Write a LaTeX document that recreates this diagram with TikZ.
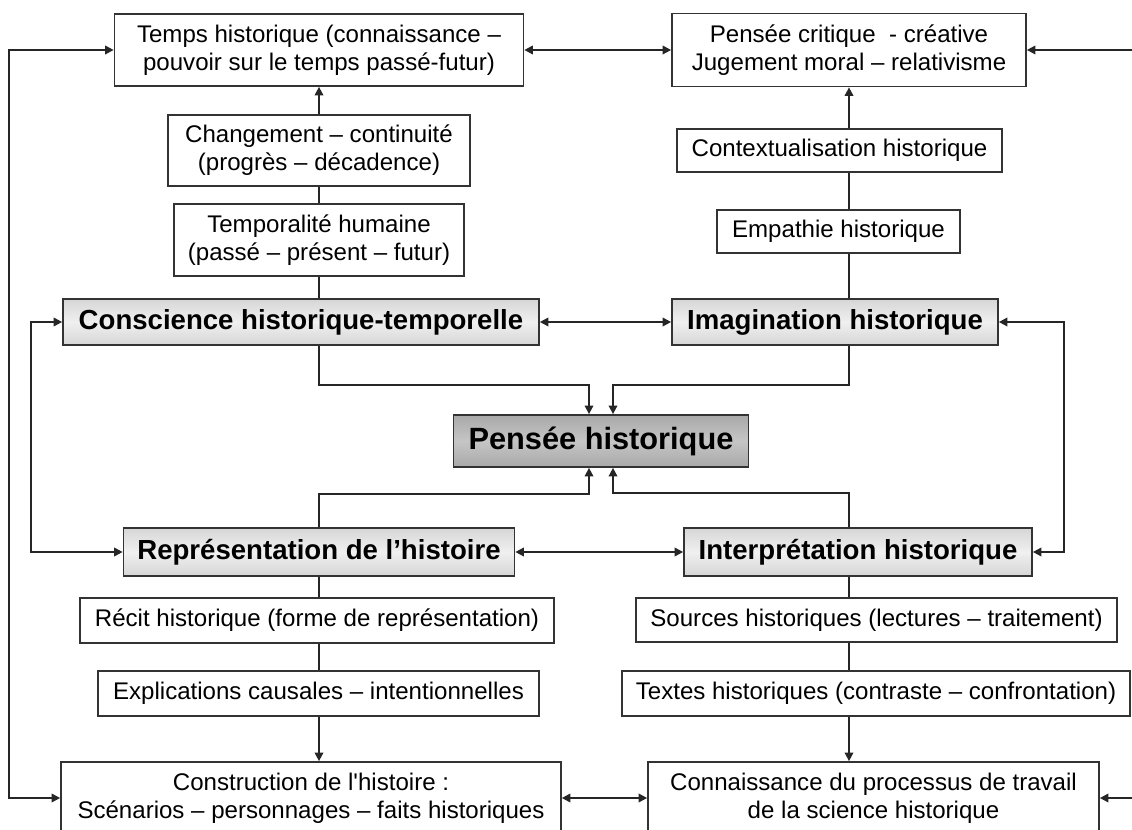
\documentclass[tikz,border=0pt]{standalone}
\usepackage{fontspec}
\setmainfont{Liberation Sans}
\usepackage{tikz}
\usetikzlibrary{positioning,arrows.meta}

\newcommand{\plainfont}{\fontsize{13.7}{16}\selectfont}
\newcommand{\keyfont}{\fontsize{15.7}{18}\selectfont\bfseries}
\newcommand{\corefont}{\fontsize{17.5}{20}\selectfont\bfseries}

\begin{document}
\begin{tikzpicture}[
    x=0.02cm, y=-0.02cm,
    plainbox/.style={rectangle, draw=black!80, line width=1pt, fill=white, align=center, inner sep=0pt, font=\plainfont},
    keybox/.style={rectangle, draw=black!80, line width=1pt, top color=gray!32, bottom color=gray!32, middle color=gray!12, align=center, inner sep=0pt, font=\keyfont},
    corebox/.style={rectangle, draw=black!80, line width=1pt, top color=gray!68, bottom color=gray!68, middle color=gray!45, align=center, inner sep=0pt, font=\corefont},
    arrow/.style={-{Triangle[length=1.7mm, width=1.7mm]}, line width=1pt, draw=black!85},
    twoway/.style={{Triangle[length=1.7mm, width=1.7mm]}-{Triangle[length=1.7mm, width=1.7mm]}, line width=1pt, draw=black!85},
    link/.style={line width=1pt, draw=black!85}
]
\useasboundingbox (0,0) rectangle (1132,830);

% centre
\node[corebox, minimum width=5.9cm, minimum height=1.04cm] (pensee) at (601,441) {Pensée historique};

% four key notions
\node[keybox, minimum width=9.52cm, minimum height=0.92cm] (conscience) at (301,322) {Conscience historique-temporelle};
\node[keybox, minimum width=6.52cm, minimum height=0.92cm] (imagination) at (835,322) {Imagination historique};
\node[keybox, minimum width=7.82cm, minimum height=0.96cm] (representation) at (319,552) {Représentation de l’histoire};
\node[keybox, minimum width=6.96cm, minimum height=0.96cm] (interpretation) at (858,552) {Interprétation historique};

% upper left column
\node[plainbox, minimum width=8.18cm, minimum height=1.44cm] (temps) at (319,50) {Temps historique (connaissance –\\pouvoir sur le temps passé-futur)};
\node[plainbox, minimum width=6.04cm, minimum height=1.42cm] (changement) at (319,150.5) {Changement – continuité\\(progrès – décadence)};
\node[plainbox, minimum width=5.8cm, minimum height=1.44cm] (temporalite) at (319,240) {Temporalité humaine\\(passé – présent – futur)};

% upper right column
\node[plainbox, minimum width=7.08cm, minimum height=1.46cm] (critique) at (849,50) {Pensée critique\ \ - créative\\Jugement moral – relativisme};
\node[plainbox, minimum width=6.5cm, minimum height=0.86cm] (context) at (839.5,150.5) {Contextualisation historique};
\node[plainbox, minimum width=4.86cm, minimum height=0.86cm] (empathie) at (838.5,231.5) {Empathie historique};

% lower left column
\node[plainbox, minimum width=9.48cm, minimum height=0.9cm] (recit) at (317,620.5) {Récit historique (forme de représentation)};
\node[plainbox, minimum width=8.82cm, minimum height=0.9cm] (explic) at (318.5,693.5) {Explications causales – intentionnelles};
\node[plainbox, minimum width=10cm, minimum height=1.44cm] (construction) at (311,798) {Construction de l\textquotesingle histoire :\\Scénarios – personnages – faits historiques};

% lower right column
\node[plainbox, minimum width=9.62cm, minimum height=0.88cm] (sources) at (876.5,620) {Sources historiques (lectures – traitement)};
\node[plainbox, minimum width=10.16cm, minimum height=0.9cm] (textes) at (876,693.5) {Textes historiques (contraste – confrontation)};
\node[plainbox, minimum width=9.02cm, minimum height=1.44cm] (connaissance) at (873.5,798) {Connaissance du processus de travail\\de la science historique};

% lines running off the right edge
\coordinate (edgetop) at (1132,50);
\coordinate (edgebot) at (1132,798);

% left side
\draw[arrow] (changement) -- (temps);
\draw[link] (temporalite) -- (changement);
\draw[link] (conscience.north -| temporalite.south) -- (temporalite.south);
\draw[arrow] (conscience.south -| temporalite.south) -- ++(0,39) -| ([xshift=-0.24cm]pensee.north);
\draw[arrow] (representation.north) -- ++(0,-33) -| ([xshift=-0.24cm]pensee.south);
\draw[link] (representation.south) -- (recit.north -| representation.south);
\draw[link] (recit.south -| representation.south) -- (explic.north -| representation.south);
\draw[arrow] (explic.south -| representation.south) -- (construction.north -| representation.south);

% right side
\draw[arrow] (context.north -| critique.south) -- (critique.south);
\draw[link] (empathie.north -| critique.south) -- (context.south -| critique.south);
\draw[link] (imagination.north -| critique.south) -- (empathie.south -| critique.south);
\draw[arrow] (imagination.south -| critique.south) -- ++(0,39) -| ([xshift=0.24cm]pensee.north);
\draw[arrow] (interpretation.north -| critique.south) -- ++(0,-34) -| ([xshift=0.24cm]pensee.south);
\draw[link] (interpretation.south -| critique.south) -- (sources.north -| critique.south);
\draw[link] (sources.south -| critique.south) -- (textes.north -| critique.south);
\draw[arrow] (textes.south -| critique.south) -- (connaissance.north -| critique.south);

% cross links and loops
\draw[twoway] (temps.east) -- (critique.west);
\draw[twoway] (conscience) -- (imagination);
\draw[twoway] (representation) -- (interpretation);
\draw[twoway] (construction.east) -- (connaissance.west);
\draw[twoway] (temps.west) -- ++(-105,0) |- (construction.west);
\draw[twoway] (conscience.west) -- ++(-31,0) |- (representation.west);
\draw[twoway] (imagination.east) -- ++(65,0) |- (interpretation.east);
\draw[arrow] (edgetop) -- (critique.east);
\draw[arrow] (edgebot) -- (connaissance.east);
\end{tikzpicture}
\end{document}
